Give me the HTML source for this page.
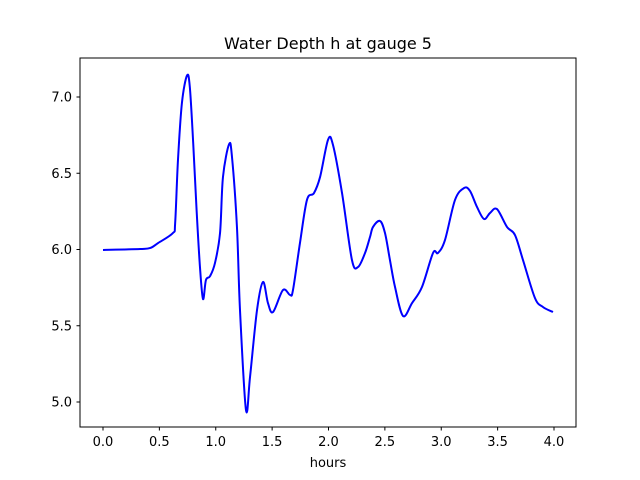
<!DOCTYPE html>
<html><head><meta charset="utf-8"><style>body{margin:0;background:#fff}svg{display:block;font-family:"DejaVu Sans","Liberation Sans",sans-serif}</style></head>
<body>
<svg id="chart" width="640" height="480">
<rect width="640" height="480" fill="#fff"/>
<text x="328" y="49" text-anchor="middle" font-size="16">Water Depth h at gauge 5</text>
<g id="xt"></g><g id="yt"></g>
<path id="line" fill="none" stroke="#0000ff" stroke-width="2" stroke-linejoin="round"/>
<rect x="80" y="58" width="496" height="369" fill="none" stroke="#000" stroke-width="1"/>
<text x="328" y="467" text-anchor="middle" font-size="13">hours</text>
</svg>
<script>
const hours=[0,0.33,0.42,0.49,0.62,0.64,0.665,0.70,0.745,0.77,0.80,0.83,0.86,0.887,0.913,0.95,0.993,1.038,1.064,1.118,1.144,1.188,1.215,1.268,1.304,1.366,1.419,1.463,1.508,1.596,1.659,1.685,1.747,1.809,1.871,1.925,1.996,2.040,2.120,2.208,2.262,2.324,2.368,2.395,2.457,2.501,2.545,2.590,2.661,2.741,2.829,2.927,2.971,3.033,3.122,3.202,3.255,3.317,3.379,3.432,3.494,3.583,3.654,3.725,3.831,3.902,3.991];
const depth=[5.997,6.003,6.010,6.043,6.108,6.174,6.587,6.961,7.141,7.066,6.698,6.259,5.885,5.675,5.800,5.826,5.911,6.108,6.475,6.690,6.607,6.148,5.603,4.948,5.164,5.603,5.787,5.649,5.590,5.734,5.702,5.734,6.043,6.325,6.370,6.475,6.720,6.685,6.370,5.931,5.885,5.977,6.082,6.148,6.187,6.108,5.931,5.754,5.564,5.649,5.754,5.977,5.977,6.062,6.325,6.403,6.384,6.279,6.200,6.239,6.265,6.148,6.095,5.931,5.682,5.623,5.590];
const xTicks=[0,0.5,1,1.5,2,2.5,3,3.5,4];
const yTicks=[5,5.5,6,6.5,7];
const sx=v=>103+(v-0)*112.75, sy=v=>97+(7-v)*152.5;
const NS="http://www.w3.org/2000/svg";
function mk(tag,attrs,parent){const e=document.createElementNS(NS,tag);for(const k in attrs)e.setAttribute(k,attrs[k]);parent.appendChild(e);return e;}
const xt=document.getElementById('xt'), yt=document.getElementById('yt');
xTicks.forEach(t=>{
 const l=mk('line',{x1:sx(t),x2:sx(t),y1:427,y2:430.5,stroke:'#000'},xt);
 
 
 const tx=mk('text',{x:sx(t),y:446,'text-anchor':'middle','font-size':'13'},xt);
 tx.textContent=t.toFixed(1);
 
 
});
yTicks.forEach(t=>{
 const l=mk('line',{x1:76.5,x2:80,y1:sy(t),y2:sy(t),stroke:'#000'},yt);
 
 
 const tx=mk('text',{x:72,y:sy(t)+4.5,'text-anchor':'end','font-size':'13'},yt);
 tx.textContent=t.toFixed(1);
 
 
});
const P=hours.map((h,i)=>[sx(h),sy(depth[i])]);
let d='M'+P[0][0]+','+P[0][1];
for(let i=0;i<P.length-1;i++){
 const p0=P[Math.max(i-1,0)],p1=P[i],p2=P[i+1],p3=P[Math.min(i+2,P.length-1)];
 const c1=[p1[0]+(p2[0]-p0[0])/6,p1[1]+(p2[1]-p0[1])/6];
 const c2=[p2[0]-(p3[0]-p1[0])/6,p2[1]-(p3[1]-p1[1])/6];
 d+=`C${c1[0]},${c1[1]} ${c2[0]},${c2[1]} ${p2[0]},${p2[1]}`;
}
document.getElementById('line').setAttribute('d',d);
</script>
</body></html>
